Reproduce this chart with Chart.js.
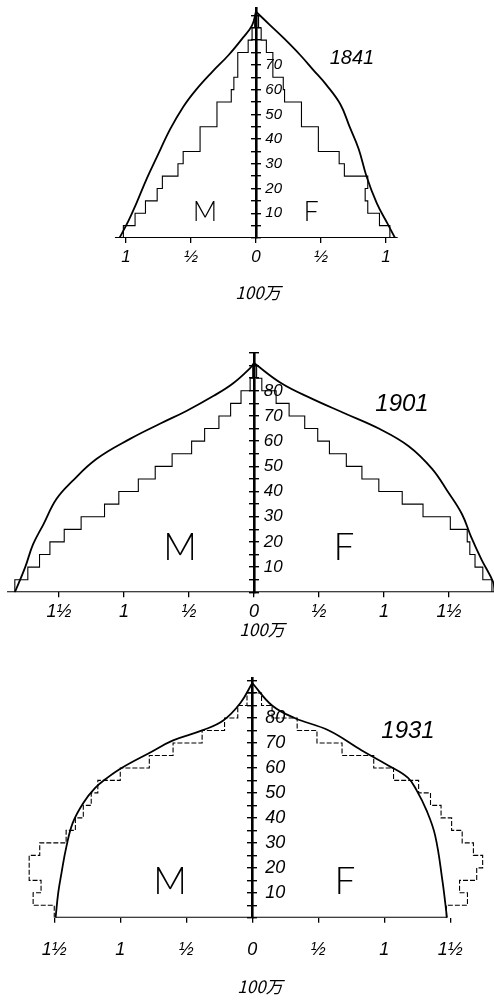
<!DOCTYPE html>
<html>
<head>
<meta charset="utf-8">
<script src="https://cdn.jsdelivr.net/npm/chart.js@4.4.1/dist/chart.umd.min.js"></script>
<style>
  body { margin: 0; background: #fff; width: 494px; height: 1000px; position: relative; overflow: hidden; }
  .panel { position: absolute; left: 0; width: 494px; }
  .txt { position: absolute; color: #000; white-space: nowrap; transform: translate(-50%, -50%); }
  .year { font-family: 'Liberation Sans', sans-serif; font-style: italic; }
  .sex { font-family: 'Lato', sans-serif; font-weight: 300; }
  .unit { font-family: 'Noto Sans CJK JP', sans-serif; font-style: italic; font-size: 17px; }
</style>
</head>
<body>
<div class="panel" style="top:0;height:280px"><canvas id="c1841"></canvas></div>
<div class="panel" style="top:330px;height:300px"><canvas id="c1901"></canvas></div>
<div class="panel" style="top:660px;height:340px"><canvas id="c1931"></canvas></div>

<div class="txt year" style="left:352px;top:57px;font-size:20px">1841</div>
<div class="txt sex" style="left:205px;top:210px;font-size:27px">M</div>
<div class="txt sex" style="left:311px;top:210px;font-size:27px">F</div>
<div class="txt unit" style="left:258px;top:291px">100万</div>

<div class="txt year" style="left:402px;top:403px;font-size:24px">1901</div>
<div class="txt sex" style="left:180px;top:545px;font-size:37px">M</div>
<div class="txt sex" style="left:344px;top:545px;font-size:37px">F</div>
<div class="txt unit" style="left:262px;top:628px">100万</div>

<div class="txt year" style="left:408px;top:730px;font-size:24px">1931</div>
<div class="txt sex" style="left:170px;top:879px;font-size:37px">M</div>
<div class="txt sex" style="left:345px;top:879px;font-size:37px">F</div>
<div class="txt unit" style="left:260px;top:985px">100万</div>

<script>
// age groups (lower edge of each 5-year band), last band ends at 90
var ageBands = [0, 5, 10, 15, 20, 25, 30, 35, 40, 45, 50, 55, 60, 65, 70, 75, 80, 85];
var ageEnd = 90;

// population per band, millions (100万)
var male1841   = [1.02, 0.93, 0.85, 0.76, 0.72, 0.60, 0.56, 0.43, 0.43, 0.30, 0.30, 0.19, 0.17, 0.14, 0.14, 0.06, 0.03, 0.01];
var female1841 = [1.03, 0.95, 0.86, 0.84, 0.86, 0.68, 0.64, 0.48, 0.48, 0.35, 0.35, 0.22, 0.21, 0.13, 0.13, 0.08, 0.04, 0.02];
var male1901   = [1.84, 1.74, 1.65, 1.57, 1.46, 1.33, 1.15, 1.04, 0.89, 0.76, 0.63, 0.48, 0.38, 0.27, 0.18, 0.10, 0.03, 0.01];
var female1901 = [1.83, 1.76, 1.70, 1.66, 1.64, 1.51, 1.30, 1.14, 0.96, 0.83, 0.71, 0.58, 0.49, 0.39, 0.27, 0.17, 0.06, 0.02];
var male1931   = [1.50, 1.66, 1.60, 1.69, 1.69, 1.61, 1.41, 1.34, 1.28, 1.22, 1.17, 1.00, 0.78, 0.60, 0.38, 0.21, 0.11, 0.04];
var female1931 = [1.47, 1.63, 1.57, 1.70, 1.745, 1.675, 1.59, 1.51, 1.43, 1.35, 1.26, 1.07, 0.92, 0.68, 0.49, 0.34, 0.15, 0.07];

// smooth curves (stationary population), ages and widths
var curveAgeM1841 = [0, 7, 14, 24, 33, 44, 53, 60, 67, 74, 81, 86, 91.5];
var curveM1841    = [1.05, 0.98, 0.92, 0.84, 0.76, 0.66, 0.56, 0.46, 0.34, 0.21, 0.10, 0.03, 0];
var curveAgeF1841 = [0, 6, 14, 25, 36, 45, 54, 62, 68, 74, 81, 86, 91.5];
var curveF1841    = [1.07, 1.01, 0.93, 0.85, 0.79, 0.72, 0.65, 0.54, 0.44, 0.34, 0.21, 0.11, 0];
var curveAgeM1901 = [0, 10, 19, 27, 37, 44, 53, 61, 67, 72, 78, 83, 89, 91];
var curveM1901    = [1.84, 1.76, 1.70, 1.62, 1.52, 1.40, 1.21, 0.95, 0.72, 0.52, 0.31, 0.16, 0.03, 0];
var curveAgeF1901 = [0, 4, 13, 22, 31, 40, 49, 58, 65, 71, 77, 83, 91];
var curveF1901    = [1.85, 1.84, 1.75, 1.67, 1.60, 1.49, 1.37, 1.19, 0.96, 0.70, 0.44, 0.21, 0];
var curveAgeM1931 = [0, 10, 18, 28, 38, 46, 52, 56, 60, 66, 71, 75, 79, 86, 94];
var curveM1931    = [1.49, 1.47, 1.445, 1.41, 1.36, 1.28, 1.19, 1.10, 0.99, 0.78, 0.60, 0.38, 0.22, 0.09, 0];
var curveAgeF1931 = [0, 15, 33, 43, 51, 56, 61, 67, 75, 80, 85, 94];
var curveF1931    = [1.475, 1.44, 1.385, 1.32, 1.245, 1.18, 1.03, 0.83, 0.58, 0.32, 0.15, 0];

// axis ticks
var xTicks1841 = [-1, -0.5, 0, 0.5, 1];
var xTicks1901 = [-1.5, -1, -0.5, 0, 0.5, 1, 1.5];
var xTicks1931 = [-1.5, -1, -0.5, 0, 0.5, 1, 1.5];
var ageLabels1841 = [10, 20, 30, 40, 50, 60, 70];
var ageLabels1901 = [10, 20, 30, 40, 50, 60, 70, 80];
var ageLabels1931 = [10, 20, 30, 40, 50, 60, 70, 80];
// extent of the drawn base line
var base1841 = [-1.085, 1.09];
var base1901 = [-1.9, 1.86];
var base1931 = [-1.49, 1.475];

function stairPoints(values, sign) {
    var pts = values.map(function (v, i) { return {x: sign * v, y: ageBands[i]}; });
    pts.push({x: 0, y: ageEnd});
    return pts;
}

function curvePoints(ages, values, sign) {
    return ages.map(function (a, i) { return {x: sign * values[i], y: a}; });
}

function fracLabel(v) {
    var a = Math.abs(v);
    if (a === 0) return '0';
    if (a === 0.5) return '½';
    if (a === 1) return '1';
    if (a === 1.5) return '1½';
    return '';
}

function makePyramid(canvasId, p) {
    var stair = {borderColor: '#000', borderWidth: p.stairWidth, borderDash: p.stairDash, stepped: 'after',
                 pointRadius: 0, showLine: true, fill: false};
    var curve = {borderColor: '#000', borderWidth: 1.8, tension: 0.4, pointRadius: 0, showLine: true, fill: false};
    var datasets = [
        Object.assign({label: 'M', data: stairPoints(p.male, -1)}, stair),
        Object.assign({label: 'F', data: stairPoints(p.female, 1)}, stair),
        Object.assign({label: 'M curve', data: curvePoints(p.curveAgeM, p.curveM, -1)}, curve),
        Object.assign({label: 'F curve', data: curvePoints(p.curveAgeF, p.curveF, 1)}, curve),
        {label: 'base', data: [{x: p.base[0], y: 0}, {x: p.base[1], y: 0}], borderColor: '#000',
         borderWidth: 2.2, pointRadius: 0, showLine: true, fill: false}
    ];
    var ageAxis = {type: 'linear', min: 0, max: p.yMax};
    new Chart(document.getElementById(canvasId), {
        type: 'scatter',
        data: {datasets: datasets},
        options: {
            responsive: true,
            maintainAspectRatio: false,
            animation: false,
            layout: {padding: {top: p.padTop, bottom: p.padBottom, left: 0, right: 0}},
            plugins: {legend: {display: false}, tooltip: {enabled: false}},
            scales: {
                x: {
                    type: 'linear', min: p.xMin, max: p.xMax,
                    border: {display: false},
                    grid: {drawOnChartArea: false, color: '#000', lineWidth: 1.3, tickLength: 5},
                    afterBuildTicks: function (s) { s.ticks = p.xTicks.map(function (v) { return {value: v}; }); },
                    ticks: {callback: fracLabel, color: '#000', padding: p.xPad, maxRotation: 0, autoSkip: false,
                            font: {family: 'Liberation Sans', style: 'italic', size: p.xFont}}
                },
                y: Object.assign({}, ageAxis, {
                    position: {x: 0},
                    border: {color: '#000', width: 2.6},
                    grid: {drawOnChartArea: false, color: '#000', lineWidth: 1.4, tickLength: 4},
                    ticks: {stepSize: 5, autoSkip: false, includeBounds: false, display: false}
                }),
                // right half of the cross ticks on the age axis
                yt: Object.assign({}, ageAxis, {
                    position: {x: p.tickRight},
                    border: {display: false},
                    grid: {drawOnChartArea: false, color: '#000', lineWidth: 1.4, tickLength: 5},
                    ticks: {stepSize: 5, autoSkip: false, includeBounds: false, display: false}
                }),
                yl: Object.assign({}, ageAxis, {
                    position: {x: p.labelAt},
                    border: {display: false},
                    grid: {display: false},
                    ticks: {stepSize: 5, autoSkip: false, includeBounds: false, padding: 0, color: '#000',
                            font: {family: 'Liberation Sans', style: 'italic', size: p.yFont, lineHeight: 1},
                            callback: function (v) { return p.ageLabels.indexOf(v) >= 0 ? String(v) : ''; }}
                })
            }
        }
    });
}

makePyramid('c1841', {
    male: male1841, female: female1841,
    curveAgeM: curveAgeM1841, curveM: curveM1841, curveAgeF: curveAgeF1841, curveF: curveF1841,
    xTicks: xTicks1841, ageLabels: ageLabels1841, base: base1841,
    xMin: -1.969, xMax: 1.831, yMax: 93, padTop: 8, padBottom: 8.6,
    xPad: 4, xFont: 17, yFont: 15, labelAt: 0.2, tickRight: 0.035, stairWidth: 1.1, stairDash: []
});
makePyramid('c1901', {
    male: male1901, female: female1901,
    curveAgeM: curveAgeM1901, curveM: curveM1901, curveAgeF: curveAgeF1901, curveF: curveF1901,
    xTicks: xTicks1901, ageLabels: ageLabels1901, base: base1901,
    xMin: -1.954, xMax: 1.846, yMax: 95, padTop: 23, padBottom: 3.1,
    xPad: 4, xFont: 18, yFont: 17, labelAt: 0.22, tickRight: 0.035, stairWidth: 1.1, stairDash: []
});
makePyramid('c1931', {
    male: male1931, female: female1931,
    curveAgeM: curveAgeM1931, curveM: curveM1931, curveAgeF: curveAgeF1931, curveF: curveF1931,
    xTicks: xTicks1931, ageLabels: ageLabels1931, base: base1931,
    xMin: -1.911, xMax: 1.831, yMax: 96, padTop: 18, padBottom: 23.6,
    xPad: 16, xFont: 18, yFont: 18, labelAt: 0.25, tickRight: 0.035, stairWidth: 1.1, stairDash: [5, 2]
});
</script>
</body>
</html>
